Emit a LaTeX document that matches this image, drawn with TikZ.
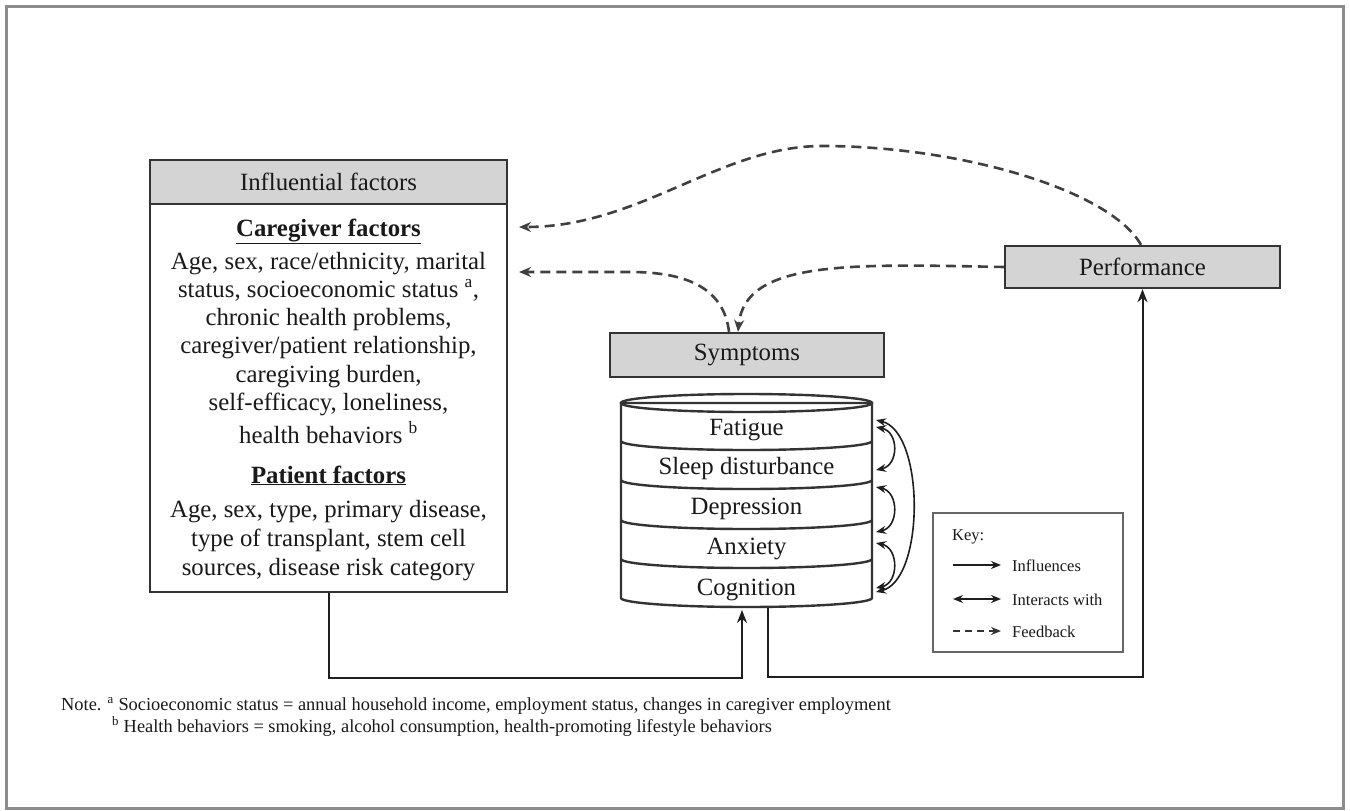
\documentclass[tikz,border=0pt]{standalone}
\usepackage{fontspec}
\setmainfont{Liberation Serif}
\usetikzlibrary{arrows.meta,calc}
\newcommand{\mainfs}{\fontsize{24.8}{28.5}\selectfont}
\newcommand{\keyfs}{\fontsize{16.5}{19}\selectfont}
\newcommand{\notefs}{\fontsize{18.4}{21}\selectfont}
\begin{document}
\begin{tikzpicture}[x=1pt,y=-1pt,
  every node/.style={inner sep=0pt, text=black!90},
  boxline/.style={draw=black!80, line width=2.4pt},
  hdr/.style={boxline, fill=black!17, font=\mainfs},
  txt/.style={font=\mainfs, anchor=base},
  bandtxt/.style={font=\mainfs, anchor=base},
  flow/.style={draw=black!88, line width=2pt, -{Stealth[length=13pt,width=10pt]}},
  fb/.style={draw=black!75, line width=2.6pt, dash pattern=on 10pt off 6pt, -{Stealth[length=12pt,width=10pt]}},
  inter/.style={draw=black!88, line width=1.6pt, {Stealth[length=10pt,width=8pt]}-{Stealth[length=10pt,width=8pt]}},
  keytxt/.style={font=\keyfs, anchor=west},
  cylarc/.style={x radius=125.5pt, y radius=9pt}
]
\useasboundingbox (0,0) rectangle (1350,811);
% outer frame
\draw[draw=black!45, line width=3pt] (6,6) rectangle (1343,808);

% Influential factors
\node[hdr, minimum width=357pt, minimum height=44pt] (inflh) at (328.5,182) {Influential factors};
\node[boxline, fill=white, minimum width=357pt, minimum height=388pt] (infl) at (328.5,398) {};
\node[txt] (cgh) at (328.5,236) {\textbf{\underline{Caregiver factors}}};
\node[txt] (cg1) at (328.5,269) {Age, sex, race/ethnicity, marital};
\node[txt] (cg2) at (328.5,297) {status, socioeconomic status \textsuperscript{a},};
\node[txt] (cg3) at (328.5,325) {chronic health problems,};
\node[txt] (cg4) at (328.5,353) {caregiver/patient relationship,};
\node[txt] (cg5) at (328.5,382) {caregiving burden,};
\node[txt] (cg6) at (328.5,410) {self-efficacy, loneliness,};
\node[txt] (cg7) at (328.5,443) {health behaviors \textsuperscript{b}};
\node[txt] (pth) at (328.5,483) {\textbf{\underline{Patient factors}}};
\node[txt] (pt1) at (328.5,517) {Age, sex, type, primary disease,};
\node[txt] (pt2) at (328.5,546) {type of transplant, stem cell};
\node[txt] (pt3) at (328.5,575) {sources, disease risk category};

% Symptoms and Performance
\node[hdr, minimum width=274pt, minimum height=44pt] (symp) at (747,355) {Symptoms};
\node[hdr, minimum width=275pt, minimum height=42pt] (perf) at (1142.5,267) {Performance};

% cylinder
\draw[boxline, fill=white] (621,403) -- (621,598) arc[start angle=180, end angle=360, cylarc] -- (872,403) -- cycle;
\draw[boxline] (746.5,403) ellipse [x radius=125.5pt, y radius=9pt];
\foreach \yy in {441,480,520,559}
  \draw[boxline] (621,\yy) arc[start angle=180, end angle=360, cylarc];
\node[bandtxt] (fat) at (746.5,435) {Fatigue};
\node[bandtxt] (slp) at (746.5,474) {Sleep disturbance};
\node[bandtxt] (dep) at (746.5,514) {Depression};
\node[bandtxt] (anx) at (746.5,554) {Anxiety};
\node[bandtxt] (cog) at (746.5,595) {Cognition};

% cylinder anchor points
\coordinate (cylin) at (742,610);
\coordinate (cylout) at (768,608);
\coordinate (r1) at (876,420);
\coordinate (r2) at (876,427);
\coordinate (r3) at (876,470);
\coordinate (r4) at (876,487);
\coordinate (r5) at (876,532);
\coordinate (r6) at (876,543);
\coordinate (r7) at (876,588);
\coordinate (r8) at (876,592);

% interactions
\draw[inter] (r1) .. controls (925,432) and (925,580) .. (r8);
\draw[inter] (r2) .. controls (899,432) and (899,465) .. (r3);
\draw[inter] (r4) .. controls (899,492) and (899,527) .. (r5);
\draw[inter] (r6) .. controls (899,548) and (899,583) .. (r7);

% influences
\draw[flow] (infl.south) -- ++(0,85) -| (cylin);
\draw[flow] (cylout) -- ++(0,69) -| (perf.south);

% feedback
\coordinate (fbA) at (519,227);
\coordinate (fbB) at (519,272);
\draw[fb] ($(perf.north)+(-1.5,0)$) .. controls (1110,190) and (960,146) .. (822,146)
   .. controls (720,146) and (640,227) .. (fbA);
\draw[fb] (perf.west) .. controls (850,264) and (745,260) .. ($(symp.north)+(-9,0)$);
\draw[fb] ($(symp.north)+(-18,0)$) .. controls (724,290) and (690,272) .. (630,272) -- (fbB);

% key
\node[draw=black!60, line width=1.8pt, minimum width=190pt, minimum height=139pt] (key) at (1028,582.5) {};
\node[keytxt] (keyt) at (952,537) {Key:};
\coordinate (k1a) at (953,565);
\coordinate (k1b) at (1001,565);
\coordinate (k2a) at (953,599);
\coordinate (k2b) at (1001,599);
\coordinate (k3a) at (953,631);
\coordinate (k3b) at (1001,631);
\draw[draw=black!88, line width=1.7pt, -{Stealth[length=10pt,width=8pt]}] (k1a) -- (k1b);
\draw[draw=black!88, line width=1.7pt, {Stealth[length=10pt,width=8pt]}-{Stealth[length=10pt,width=8pt]}] (k2a) -- (k2b);
\draw[draw=black!80, line width=2pt, dash pattern=on 7pt off 5pt, -{Stealth[length=10pt,width=8pt]}] (k3a) -- (k3b);
\node[keytxt] (kl1) at (1012,566) {Influences};
\node[keytxt] (kl2) at (1012,600) {Interacts with};
\node[keytxt] (kl3) at (1012,632) {Feedback};

% notes
\node[font=\notefs, anchor=base west] (note1) at (61,710) {Note. \textsuperscript{a} Socioeconomic status = annual household income, employment status, changes in caregiver employment};
\node[font=\notefs, anchor=base west] (note2) at (112,732) {\textsuperscript{b} Health behaviors = smoking, alcohol consumption, health-promoting lifestyle behaviors};
\end{tikzpicture}
\end{document}
